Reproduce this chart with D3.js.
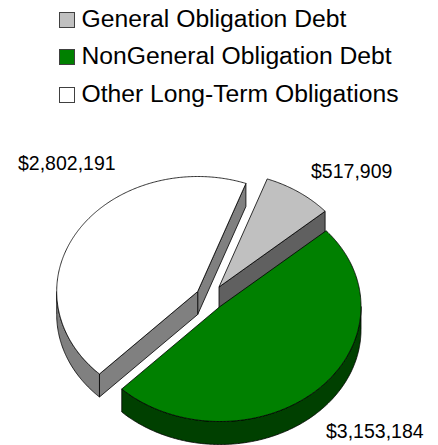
<!DOCTYPE html>
<html>
<head>
<meta charset="utf-8">
<script src="https://cdn.jsdelivr.net/npm/d3@7"></script>
<style>
  html, body { margin: 0; padding: 0; background: #fff; }
  text { font-family: "Liberation Sans", Arial, sans-serif; fill: #000; }
</style>
</head>
<body>
<div id="plot"></div>
<script>
// Chart data
let categories = ['General Obligation Debt', 'NonGeneral Obligation Debt', 'Other Long-Term Obligations']
let values = [517909, 3153184, 2802191]

// Slice colors: top face, side face
let topColors = ['#C0C0C0', '#008000', '#FFFFFF']
let sideColors = ['#606060', '#004000', '#808080']

// Plot constants
let width = 438
let height = 445
let rx = 141
let ry = 115
let depth = 23
let firstAngle = 20 * Math.PI / 180

// Where each slice apex sits once the pie is exploded, and its label spot
let apexes = [[219, 287], [220, 306.5], [197.7, 291.5]]
let labelSpots = [[311, 178], [326, 438], [18, 170]]
let drawOrder = [0, 2, 1]

// Legend constants
let legendX = 59.5
let legendY = [12, 49, 87]
let legendBox = 15

let formatMoney = d3.format('$,')

let svg = d3.select('#plot')
  .append('svg')
  .attr('width', width)
  .attr('height', height)
  .style('display', 'block')

let slices = d3.pie().sort(null).startAngle(firstAngle).endAngle(firstAngle + 2 * Math.PI)(values)

let line = d3.line()

// Point on the tilted rim of a slice, angle clockwise from 12 o'clock
function rim(c, a, drop) {
  return [c[0] + rx * Math.sin(a), c[1] - ry * Math.cos(a) + (drop || 0)]
}

function arcAngles(a0, a1) {
  let n = Math.max(2, Math.ceil(Math.abs(a1 - a0) / 0.01))
  return d3.range(n + 1).map(i => a0 + (a1 - a0) * i / n)
}

// Cut face running from the apex to the rim
function cutFace(c, a) {
  let p = rim(c, a)
  return line([c, p, [p[0], p[1] + depth], [c[0], c[1] + depth]]) + 'Z'
}

// Outer wall, only the part that faces the viewer
function wall(c, a0, a1) {
  let from = Math.max(a0, Math.PI / 2)
  let to = Math.min(a1, 3 * Math.PI / 2)
  if (to <= from) { return null }
  let angles = arcAngles(from, to)
  let upper = angles.map(a => rim(c, a))
  let lower = angles.slice().reverse().map(a => rim(c, a, depth))
  return line(upper.concat(lower)) + 'Z'
}

function drawFace(d, fill) {
  if (!d) { return }
  svg.append('path')
    .attr('d', d)
    .attr('fill', fill)
    .attr('stroke', '#000')
    .attr('stroke-width', 0.8)
    .attr('stroke-linejoin', 'round')
}

// Draw the slices back to front
drawOrder.forEach(function(i) {
  let s = slices[i]
  let c = apexes[i]
  // Cut faces only show when they look towards the viewer
  if (i == 0) { drawFace(cutFace(c, s.endAngle), sideColors[i]) }
  if (i == 2) {
    drawFace(cutFace(c, s.endAngle), sideColors[i])
    drawFace(cutFace(c, s.startAngle), sideColors[i])
  }
  drawFace(wall(c, s.startAngle, s.endAngle), sideColors[i])
  let top = [c].concat(arcAngles(s.startAngle, s.endAngle).map(a => rim(c, a)))
  drawFace(line(top) + 'Z', topColors[i])
})

// Value labels
svg.append('g')
  .selectAll('text')
  .data(values)
  .enter().append('text')
  .attr('x', (d, i) => labelSpots[i][0])
  .attr('y', (d, i) => labelSpots[i][1])
  .attr('font-size', 19.5)
  .text(d => formatMoney(d))

// Legend
let legend = svg.append('g')
  .selectAll('g')
  .data(categories)
  .enter().append('g')
  .attr('transform', (d, i) => `translate(${legendX}, ${legendY[i]})`)

legend.append('rect')
  .attr('y', 0.5)
  .attr('width', legendBox)
  .attr('height', legendBox)
  .attr('fill', (d, i) => topColors[i])
  .attr('stroke', '#404040')
  .attr('stroke-width', 1)

legend.append('text')
  .attr('x', 22)
  .attr('y', legendBox)
  .attr('font-size', 24.7)
  .text(d => d)
</script>
</body>
</html>
